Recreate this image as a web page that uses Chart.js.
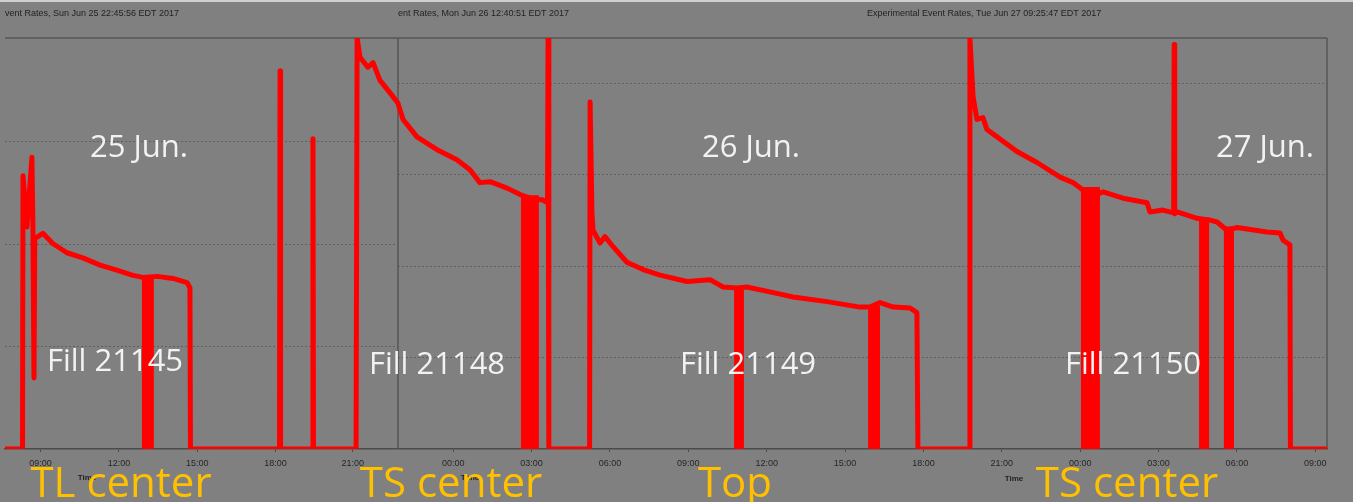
<!DOCTYPE html>
<html>
<head>
<meta charset="utf-8">
<script src="https://cdn.jsdelivr.net/npm/chart.js@4/dist/chart.umd.min.js"></script>
<style>
  html, body { margin: 0; background: #808080; }
  #wrap { width: 1353px; height: 502px; }
</style>
</head>
<body>
<div id="wrap"><canvas id="rates"></canvas></div>
<script>
// x = hours after Jun 25 00:00 (time axis of the 26/27 Jun screenshots)
// left screenshot (Fill 21145), its own rate scale
const fill21145Hours = [6.89, 7.56, 7.58, 7.73, 7.92, 7.96, 8.00, 8.03, 8.11, 8.34, 8.72, 9.26, 9.87, 10.53, 11.17, 11.79, 12.17, 12.71, 13.32, 13.86, 13.97, 13.99, 17.40, 17.42, 17.44, 18.66, 18.68, 18.70, 20.33];
const fill21145Rate = [0, 0, 2.66, 2.16, 2.84, 2.13, 0.69, 2.05, 2.06, 2.10, 2.00, 1.91, 1.86, 1.79, 1.74, 1.69, 1.67, 1.68, 1.66, 1.62, 1.57, 0, 0, 3.68, 0, 0, 3.02, 0, 0];

// fills 21148, 21149, 21150
const laterHours = [20.33, 20.37, 20.48, 20.78, 20.98, 21.24, 21.63, 21.93, 22.13, 22.66,
  23.43, 24.19, 24.69, 25.07, 25.46, 26.11, 26.61, 26.99, 27.49, 27.66,
  27.68, 27.71, 29.27, 29.29, 29.36, 29.40, 29.67, 29.86, 30.17, 30.70,
  31.32, 31.97, 33.00, 33.88, 34.38, 34.91, 35.29, 36.44, 37.06, 38.36,
  39.62, 40.00, 40.39, 40.89, 41.54, 41.80, 41.84, 43.80, 43.83, 43.95,
  44.10, 44.33, 44.48, 44.87, 45.63, 46.40, 47.28, 47.78, 48.16, 48.70,
  48.93, 49.69, 50.61, 50.72, 51.22, 51.63, 51.65, 51.67, 51.76, 52.53,
  53.03, 53.29, 53.67, 54.06, 55.20, 55.70, 55.82, 56.08, 56.10, 57.50];
const laterRate = [0, 4.49, 4.28, 4.17, 4.22, 4.03, 3.89, 3.78, 3.60, 3.41,
  3.27, 3.16, 3.05, 2.91, 2.92, 2.85, 2.78, 2.74, 2.72, 2.69,
  4.49, 0, 0, 3.79, 2.58, 2.39, 2.25, 2.32, 2.21, 2.04,
  1.96, 1.90, 1.83, 1.85, 1.77, 1.76, 1.77, 1.70, 1.66, 1.61,
  1.55, 1.55, 1.60, 1.55, 1.54, 1.49, 0, 0, 4.49, 3.85,
  3.60, 3.62, 3.49, 3.41, 3.25, 3.13, 2.97, 2.91, 2.83, 2.78,
  2.81, 2.74, 2.69, 2.59, 2.61, 2.58, 4.42, 2.57, 2.59, 2.52,
  2.50, 2.48, 2.39, 2.42, 2.37, 2.36, 2.28, 2.23, 0, 0];

// fast on/off bursts that show up as solid red blocks
const burstStart = [12.17, 26.68, 34.84, 39.97, 48.12, 52.64, 53.59];
const burstEnd = [12.55, 27.29, 35.14, 40.35, 48.77, 52.95, 53.90];
const burstTop = [1.67, 2.76, 1.77, 1.55, 2.85, 2.52, 2.42];
const burstAxis = ['y1', 'y', 'y', 'y', 'y', 'y', 'y'];

// time ticks
const tickHours = [8.25, 11.25, 14.25, 17.25, 20.2, 24.05, 27.05, 30.05, 33.05, 36.05, 39.05, 42.05, 45.05, 48.05, 51.05, 54.05, 57.05];
const tickLabels = ['09:00', '12:00', '15:00', '18:00', '21:00', '00:00', '03:00', '06:00', '09:00', '12:00', '15:00', '18:00', '21:00', '00:00', '03:00', '06:00', '09:00'];

const panelTitles = ['vent Rates, Sun Jun 25 22:45:56 EDT 2017', 'ent Rates, Mon Jun 26 12:40:51 EDT 2017', 'Experimental Event Rates, Tue Jun 27 09:25:47 EDT 2017'];
const dayLabels = ['25 Jun.', '26 Jun.', '27 Jun.'];
const fillLabels = ['Fill 21145', 'Fill 21148', 'Fill 21149', 'Fill 21150'];
const spotLabels = ['TL center', 'TS center', 'Top', 'TS center'];

const RED = '#ff0000';

function pts(xs, ys) {
    return xs.map((x, i) => ({ x: x, y: ys[i] }));
}

const lineStyle = { borderColor: RED, borderWidth: 5, borderJoinStyle: 'round', borderCapStyle: 'round', pointRadius: 0, tension: 0 };

const datasets = [
    Object.assign({ data: pts(fill21145Hours, fill21145Rate), yAxisID: 'y1' }, lineStyle),
    Object.assign({ data: pts(laterHours, laterRate), yAxisID: 'y' }, lineStyle)
];
burstStart.forEach((s, i) => {
    datasets.push({
        data: [{ x: s, y: 0 }, { x: s, y: burstTop[i] }, { x: burstEnd[i], y: burstTop[i] }, { x: burstEnd[i], y: 0 }],
        yAxisID: burstAxis[i],
        borderColor: RED, backgroundColor: RED, borderWidth: 2,
        fill: 'origin', pointRadius: 0, tension: 0
    });
});

// grid, frame and the pasted-on text of the slide
const slideDecor = {
    id: 'slideDecor',
    beforeDraw(chart) {
        const c = chart.ctx;
        c.save();
        c.fillStyle = '#808080';
        c.fillRect(0, 0, chart.width, chart.height);
        c.fillStyle = '#cfcfcf';
        c.fillRect(0, 0, chart.width, 2);
        c.restore();
    },
    beforeDatasetsDraw(chart) {
        const c = chart.ctx, a = chart.chartArea;
        const y = chart.scales.y, y1 = chart.scales.y1;
        const split = 398;
        c.save();
        c.strokeStyle = 'rgba(70,70,70,0.55)';
        c.lineWidth = 1;
        c.setLineDash([2, 2]);
        [1, 2, 3].forEach(v => {
            const py = Math.round(y1.getPixelForValue(v)) + 0.5;
            c.beginPath(); c.moveTo(a.left, py); c.lineTo(split, py); c.stroke();
        });
        [1, 2, 3, 4].forEach(v => {
            const py = Math.round(y.getPixelForValue(v)) + 0.5;
            c.beginPath(); c.moveTo(split, py); c.lineTo(a.right, py); c.stroke();
        });
        c.setLineDash([]);
        c.strokeStyle = '#555555';
        c.lineWidth = 1.5;
        c.beginPath();
        c.moveTo(a.left, a.top); c.lineTo(a.right, a.top);
        c.moveTo(split, a.top); c.lineTo(split, a.bottom);
        c.moveTo(a.right, a.top); c.lineTo(a.right, a.bottom);
        c.stroke();
        c.restore();
    },
    afterDraw(chart) {
        const c = chart.ctx;
        c.save();
        c.fillStyle = '#222222';
        c.font = '9px "Liberation Sans"';
        c.textBaseline = 'middle';
        c.textAlign = 'left';
        c.fillText(panelTitles[0], 5, 14, 200);
        c.fillText(panelTitles[1], 398, 14, 198);
        c.fillText(panelTitles[2], 867, 14, 270);

        c.font = 'bold 8px "Liberation Sans"';
        c.textAlign = 'center';
        c.fillText('Time', 87, 478);
        c.fillText('Time', 470, 478);
        c.fillText('Time', 1014, 479);

        c.fillStyle = '#f2f2f2';
        c.font = '31px "Open Sans"';
        c.fillText(dayLabels[0], 139, 148);
        c.fillText(dayLabels[1], 751, 148);
        c.fillText(dayLabels[2], 1265, 148);
        c.fillText(fillLabels[0], 115, 362);
        c.fillText(fillLabels[1], 437, 365);
        c.fillText(fillLabels[2], 748, 365);
        c.fillText(fillLabels[3], 1133, 365);

        c.fillStyle = '#ffc000';
        c.font = '42px "Open Sans"';
        c.textBaseline = 'alphabetic';
        c.fillText(spotLabels[0], 121, 497);
        c.fillText(spotLabels[1], 451, 497);
        c.fillText(spotLabels[2], 735, 497);
        c.fillText(spotLabels[3], 1127, 497);
        c.restore();
    }
};

new Chart(document.getElementById('rates'), {
    type: 'line',
    data: { datasets: datasets },
    options: {
        responsive: true,
        maintainAspectRatio: false,
        animation: false,
        layout: { padding: { top: 38, left: 5, right: 26, bottom: 0 } },
        plugins: { legend: { display: false }, tooltip: { enabled: false } },
        scales: {
            x: {
                type: 'linear',
                min: 6.89,
                max: 57.5,
                afterBuildTicks: s => { s.ticks = tickHours.map(v => ({ value: v })); },
                afterFit: s => { s.height = 53; },
                ticks: {
                    autoSkip: false,
                    maxRotation: 0,
                    padding: 6,
                    color: '#262626',
                    font: { size: 9, family: 'Liberation Sans' },
                    callback: (v, i) => tickLabels[i]
                },
                grid: { drawOnChartArea: false, tickLength: 3, color: '#4a4a4a' },
                border: { display: true, color: '#4a4a4a', width: 1.5 }
            },
            y: { display: false, min: 0, max: 4.49 },
            y1: { display: false, min: 0, max: 4.0 }
        }
    },
    plugins: [slideDecor]
});
</script>
</body>
</html>
